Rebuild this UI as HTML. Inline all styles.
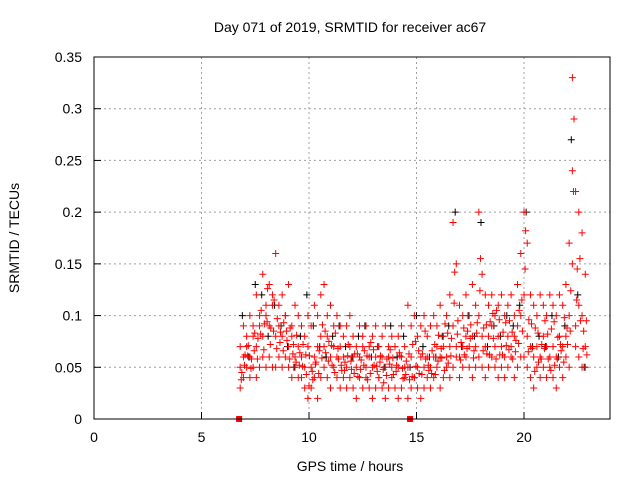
<!DOCTYPE html>
<html><head><meta charset="utf-8"><style>
body{margin:0;background:#fff}
svg{display:block;font-family:"Liberation Sans",sans-serif}
</style></head><body>
<svg id="chart" width="640" height="480" viewBox="0 0 640 480">
<rect width="640" height="480" fill="#fff"/>
<text x="350" y="32" font-size="14" text-anchor="middle">Day 071 of 2019, SRMTID for receiver ac67</text>
<g id="grid"></g>
<g id="ticks"></g>
<g id="marks"></g>
<rect x="94" y="57" width="516" height="362" fill="none" stroke="#000" stroke-width="1"/>
<text x="350" y="471" font-size="14" text-anchor="middle">GPS time / hours</text>
<text transform="translate(19,238) rotate(-90)" font-size="14" text-anchor="middle">SRMTID / TECUs</text>
</svg>
<script>
const xTicks=[0,5,10,15,20];
const yTicks=[0,0.05,0.1,0.15,0.2,0.25,0.3,0.35];
const yTickLabels=["0","0.05","0.1","0.15","0.2","0.25","0.3","0.35"];
const redStart=6.8, redStep=0.15;
const redA=[.05,.06,.07,.06,.08, .07,.09,.08,.10,.09,.11,.08, .09,.08,.10,.07,.08,.06,.07, .06,.05,.07,.05,.06,.07,.08, .07,.08,.06,.07,.06,.07, .06,.05,.07,.06,.05,.06,.07,.05,.06,.05,.06,.04,.06,.05,.06,.05,.07,.05,.06,.05, .05,.06,.04,.05,.06,.05,.06, .05,.06,.07,.06,.07,.06,.07, .09,.07,.06,.07,.08,.07,.08,.07, .10,.08,.07,.08,.09,.07,.08, .07,.06,.08,.07,.08,.09,.10, .12,.08,.07,.06,.07,.06,.08, .07,.06,.07,.06,.08,.07,.08, .10,.15,.09,.11,.10,.07];
const redB=[.07,.09,.08,.10,.09, .12,.10,.14,.11,.13,.12,.16, .11,.12,.10,.13,.09,.11,.10, .09,.08,.10,.09,.11,.10,.12, .13,.10,.11,.09,.10,.09, .08,.09,.10,.08,.07,.09,.08,.09,.07,.08,.09,.07,.08,.09,.07,.08,.07,.08,.09,.07, .11,.09,.10,.08,.09,.10,.08, .09,.10,.09,.11,.08,.10,.12, .19,.15,.11,.10,.12,.10,.13,.11, .20,.14,.12,.11,.12,.10,.11, .12,.10,.11,.12,.10,.13,.16, .20,.17,.12,.11,.10,.12,.11, .10,.12,.11,.10,.12,.11,.13, .17,.33,.22,.20,.18,.14];
const redC=[.03,.04,.05,.04,.05, .04,.05,.06,.05,.06,.05,.05, .06,.05,.06,.05,.04,.05,.04, .04,.03,.02,.03,.04,.02,.04, .05,.04,.03,.05,.04,.03, .04,.03,.04,.03,.02,.04,.03,.04,.03,.02,.03,.04,.03,.02,.03,.04,.03,.02,.03,.04, .02,.03,.04,.03,.02,.03,.04, .03,.04,.05,.03,.04,.05,.04, .05,.06,.04,.05,.06,.05,.04,.05, .06,.05,.04,.05,.06,.05,.04, .05,.04,.05,.06,.04,.05,.06, .06,.05,.04,.03,.05,.04,.05, .04,.05,.04,.03,.05,.04,.06, .05,.24,.07,.06,.05,.05];
const redDStart=6.875;
const redD=[.045,.062,.071,.058,.083, .078,.105,.092,.126,.088,.115,.097, .084,.093,.076,.088,.072,.081,.064, .072,.043,.061,.038,.055,.066,.091, .064,.075,.052,.083,.058,.047, .055,.072,.048,.063,.041,.057,.066,.038,.074,.052,.046,.061,.035,.058,.067,.043,.052,.061,.039,.056, .038,.072,.051,.044,.063,.058,.047, .066,.043,.081,.059,.092,.054,.078, .142,.095,.074,.062,.085,.091,.066,.093, .155,.088,.063,.094,.078,.105,.062, .084,.071,.095,.058,.076,.105,.085, .182,.096,.068,.088,.055,.072,.095, .058,.087,.052,.079,.066,.098,.072, .124,.29,.145,.095,.085,.062];
const redEStart=6.85;
const redE=[.038,.052,.061,.049,.066, .058,.082,.067,.094,.072,.085,.068, .074,.066,.085,.058,.063,.055,.052, .051,.062,.032,.046,.053,.044,.059, .085,.056,.071,.045,.068,.052, .047,.061,.056,.044,.063,.048,.052,.061,.044,.067,.051,.055,.048,.042,.053,.059,.046,.064,.049,.043, .063,.041,.075,.066,.043,.085,.052, .044,.072,.056,.068,.047,.083,.061, .112,.082,.057,.088,.068,.078,.059,.083, .124,.066,.091,.062,.102,.058,.096, .062,.093,.067,.084,.065,.073,.115, .145,.065,.092,.046,.083,.058,.068, .082,.047,.094,.058,.072,.055,.088, .085,.22,.115,.155,.068,.095];
const blackStart=6.9, blackStep=0.3;
const black=[.10,.06,.13,.12,.08,.11,.09,.07,.05,.08, .12,.09,.07,.06,.08,.09,.07,.06,.08,.09, .06,.07,.05,.09,.06,.08,.05,.10,.07,.06, .06,.08,.09,.20,.07,.10,.08,.19,.07,.09, .08,.10,.09,.11,.20,.07,.08,.07,.10,.06, .09,.27,.12,.05];
const gapTimes=[6.75,14.7];
const NS='http://www.w3.org/2000/svg';
const X=t=>94+t*21.5;
const Y=v=>419-v*1034.3;
function mk(tag,attrs,parent){const e=document.createElementNS(NS,tag);for(const k in attrs)e.setAttribute(k,attrs[k]);parent.appendChild(e);return e;}
const grid=document.getElementById('grid'),ticks=document.getElementById('ticks'),marks=document.getElementById('marks');
xTicks.forEach(t=>{
  if(t>0){const g=mk('line',{x1:X(t),x2:X(t),y1:57,y2:419,stroke:'#a0a0a0','stroke-dasharray':'2,3'},grid);
  
  }
  const l=mk('line',{x1:X(t),x2:X(t),y1:419,y2:412,stroke:'#000'},ticks);
  
  
  const tx=mk('text',{x:X(t),y:442,'font-size':14,'text-anchor':'middle'},ticks);tx.textContent=t;
  
  
});
yTicks.forEach((v,i)=>{
  if(v>0&&v<0.35){const g=mk('line',{x1:94,x2:610,y1:Y(v),y2:Y(v),stroke:'#a0a0a0','stroke-dasharray':'2,3'},grid);
  
  }
  const l=mk('line',{x1:94,x2:101,y1:Y(v),y2:Y(v),stroke:'#000'},ticks);
  
  
  const tx=mk('text',{x:82,y:Y(v)+5,'font-size':14,'text-anchor':'end'},ticks);tx.textContent=yTickLabels[i];
  
  
});
function plus(t,v,col,name){
  const x=X(t),y=Y(v);
  const p=mk('path',{d:`M${x-3.5},${y}H${x+3.5}M${x},${y-3.5}V${y+3.5}`,stroke:col,'stroke-width':1,fill:'none'},marks);
  
  
}
black.forEach((v,i)=>plus(blackStart+i*blackStep,v,'#000','black-point'));
[redA,redB,redC].forEach(s=>s.forEach((v,i)=>plus(redStart+i*redStep,v,'#f00','red-point')));
redD.forEach((v,i)=>plus(redDStart+i*redStep,v,'#f00','red-point'));
redE.forEach((v,i)=>plus(redEStart+i*redStep,v,'#f00','red-point'));
gapTimes.forEach(t=>{
  const r=mk('rect',{x:X(t)-3,y:416,width:6,height:6,fill:'#f00'},marks);
  
  
});
</script>
</body></html>
